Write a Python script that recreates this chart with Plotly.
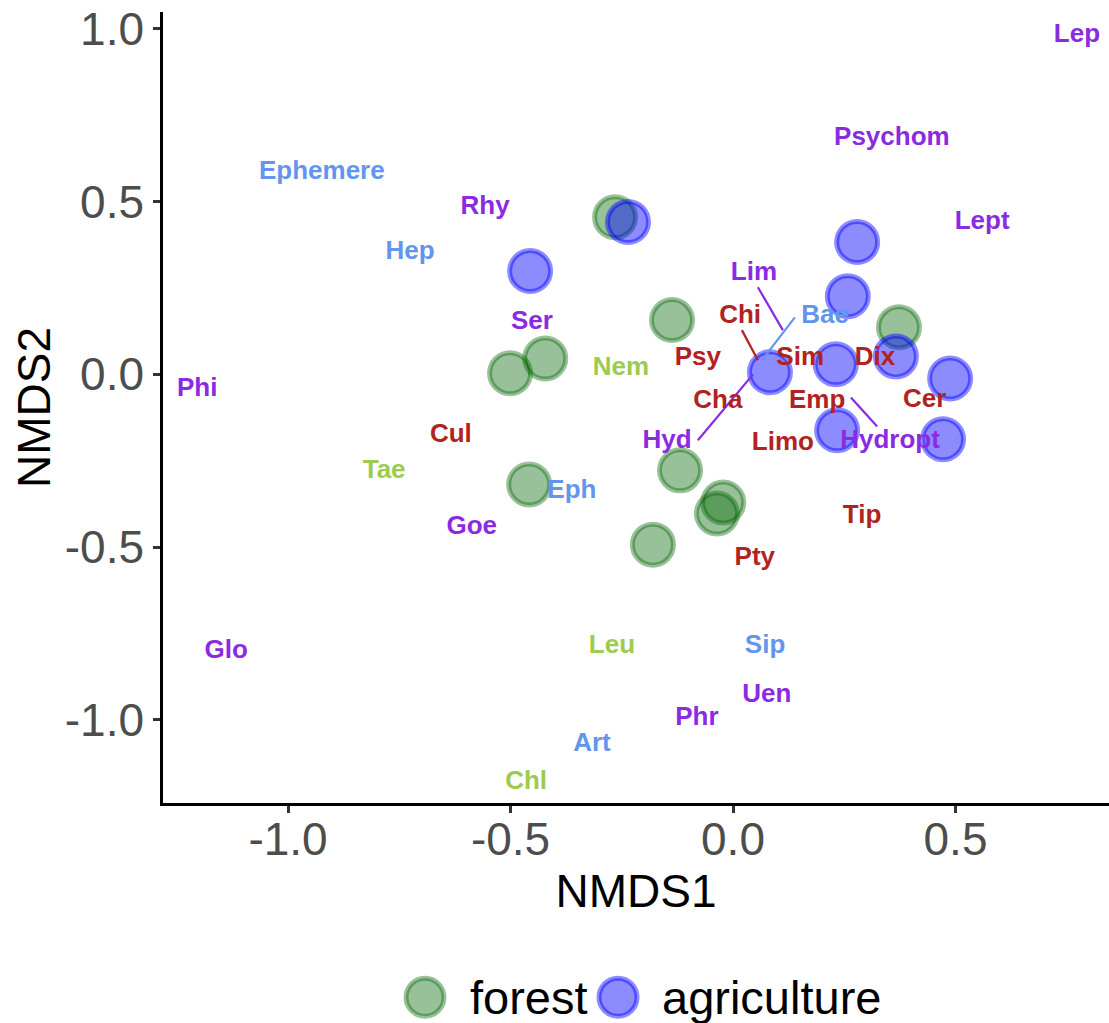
import plotly.graph_objects as go

# ---- site scores (NMDS) ----
forest_x = [-0.265, -0.137, 0.373, -0.422, -0.501, -0.458, -0.119, -0.022, -0.036, -0.180]
forest_y = [0.455, 0.157, 0.136, 0.046, 0.003, -0.319, -0.278, -0.371, -0.403, -0.493]
agri_x = [-0.236, -0.456, 0.279, 0.258, 0.083, 0.231, 0.366, 0.488, 0.234, 0.472]
agri_y = [0.441, 0.299, 0.383, 0.226, 0.006, 0.029, 0.052, -0.012, -0.162, -0.188]

# ---- species labels ----
tri_names = ["Lep", "Psychom", "Lept", "Rhy", "Ser", "Phi", "Lim", "Hyd", "Hydropt", "Goe", "Glo", "Uen", "Phr"]
tri_x = [0.773, 0.357, 0.560, -0.557, -0.452, -1.204, 0.047, -0.148, 0.353, -0.587, -1.139, 0.076, -0.081]
tri_y = [0.980, 0.684, 0.441, 0.484, 0.151, -0.043, 0.293, -0.194, -0.194, -0.443, -0.803, -0.930, -0.997]

dip_names = ["Chi", "Psy", "Sim", "Dix", "Cha", "Emp", "Cer", "Limo", "Cul", "Tip", "Pty"]
dip_x = [0.016, -0.079, 0.151, 0.319, -0.034, 0.189, 0.431, 0.112, -0.634, 0.290, 0.049]
dip_y = [0.168, 0.046, 0.046, 0.046, -0.078, -0.078, -0.075, -0.200, -0.177, -0.412, -0.533]

eph_names = ["Ephemere", "Hep", "Bae", "Eph", "Sip", "Art"]
eph_x = [-0.924, -0.726, 0.207, -0.362, 0.072, -0.317]
eph_y = [0.583, 0.354, 0.168, -0.339, -0.788, -1.072]

ple_names = ["Nem", "Tae", "Leu", "Chl"]
ple_x = [-0.252, -0.784, -0.272, -0.465]
ple_y = [0.017, -0.281, -0.788, -1.183]

# ---- repel segments (label end -> species position) ----
tri_seg_x = [0.056, 0.112, None, 0.045, -0.079, None, 0.265, 0.324]
tri_seg_y = [0.252, 0.128, None, 0.000, -0.191, None, -0.067, -0.151]
dip_seg_x = [0.020, 0.056]
dip_seg_y = [0.128, 0.041]
eph_seg_x = [0.139, 0.065]
eph_seg_y = [0.165, 0.041]

x_tick_vals = [-1.0, -0.5, 0.0, 0.5]
x_tick_text = ["-1.0", "-0.5", "0.0", "0.5"]
y_tick_vals = [-1.0, -0.5, 0.0, 0.5, 1.0]
y_tick_text = ["-1.0", "-0.5", "0.0", "0.5", "1.0"]

FONT = "Liberation Sans, Arial, Helvetica, sans-serif"
C_TRI = "#8A2BE2"
C_DIP = "#B22222"
C_EPH = "#6495ED"
C_PLE = "#9CCB4F"
GREEN_F = "rgba(0,100,0,0.4)"
BLUE_F = "rgba(0,0,255,0.45)"

fig = go.Figure()

fig.add_trace(go.Scatter(x=forest_x, y=forest_y, mode="markers", name="forest",
                         marker=dict(size=41, color=GREEN_F, line=dict(color=GREEN_F, width=5)),
                         showlegend=False))
fig.add_trace(go.Scatter(x=agri_x, y=agri_y, mode="markers", name="agriculture",
                         marker=dict(size=41, color=BLUE_F, line=dict(color=BLUE_F, width=5)),
                         showlegend=False))

for sx, sy, c in [(tri_seg_x, tri_seg_y, C_TRI), (dip_seg_x, dip_seg_y, C_DIP), (eph_seg_x, eph_seg_y, C_EPH)]:
    fig.add_trace(go.Scatter(x=sx, y=sy, mode="lines", line=dict(color=c, width=2.2),
                             showlegend=False, hoverinfo="skip"))

for names, xs, ys, c in [(tri_names, tri_x, tri_y, C_TRI), (dip_names, dip_x, dip_y, C_DIP),
                         (eph_names, eph_x, eph_y, C_EPH), (ple_names, ple_x, ple_y, C_PLE)]:
    fig.add_trace(go.Scatter(x=xs, y=ys, mode="text", text=names, textposition="middle center",
                             textfont=dict(family=FONT, size=26, color=c, weight="bold"),
                             showlegend=False, cliponaxis=False))

# ---- manual legend (large symbols like ggplot) ----
legend_items = [("forest", GREEN_F, 0.2569, 0.2970, 0.3224),
                ("agriculture", BLUE_F, 0.4609, 0.5011, 0.5253)]
for label, col, x0, x1, tx in legend_items:
    fig.add_shape(type="circle", xref="paper", yref="paper", x0=x0, x1=x1, y0=-0.2696, y1=-0.2215,
                  fillcolor=col, line=dict(color=col, width=5))
    fig.add_annotation(xref="paper", yref="paper", x=tx, y=-0.2456, text=label, showarrow=False,
                       xanchor="left", yanchor="middle",
                       font=dict(family=FONT, size=47, color="black"))

axis_common = dict(showline=True, linecolor="black", linewidth=2.5, mirror=False,
                   ticks="outside", ticklen=7, tickwidth=2.5, tickcolor="#333333",
                   showgrid=False, zeroline=False,
                   tickfont=dict(family=FONT, size=46, color="#4D4D4D"))

fig.update_layout(
    width=1109, height=1023,
    margin=dict(l=163, r=0, t=12, b=220),
    paper_bgcolor="white", plot_bgcolor="white",
    xaxis=dict(range=[-1.281, 0.845], tickvals=x_tick_vals, ticktext=x_tick_text,
               ticklabelstandoff=-13,
               title=dict(text="NMDS1", font=dict(family=FONT, size=46, color="black"), standoff=0),
               **axis_common),
    yaxis=dict(range=[-1.241, 1.049], tickvals=y_tick_vals, ticktext=y_tick_text,
               title=dict(text="NMDS2", font=dict(family=FONT, size=46, color="black"), standoff=0),
               **axis_common),
    showlegend=False,
)

fig.write_html("out.html")
